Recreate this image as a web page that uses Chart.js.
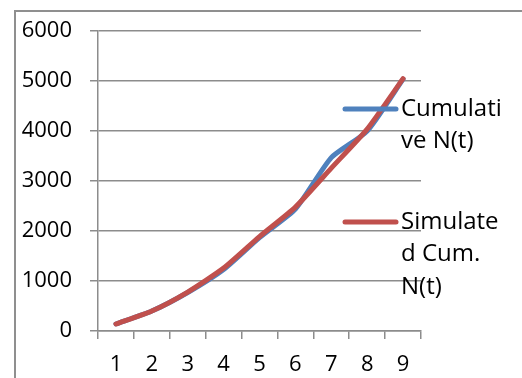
<!DOCTYPE html>
<html lang="en">
<head>
  <meta charset="UTF-8">
  <title>Cumulative N(t)</title>
  <script src="https://cdn.jsdelivr.net/npm/chart.js"></script>
  <style>
    body { margin: 0; background: #fff; font-family: "Open Sans", sans-serif; }
    .wrap { position: relative; width: 522px; height: 378px; overflow: hidden; }
    .frame {
      position: absolute; left: 14px; top: 10px; width: 600px; height: 400px;
      border-left: 2px solid #8f8f8f; border-top: 2px solid #8f8f8f;
    }
    canvas { position: absolute; left: 0; top: 0; }
  </style>
</head>
<body>
<div class="wrap">
  <div class="frame"></div>
  <canvas id="cumChart" width="522" height="378"></canvas>
</div>
<script>
  // time steps (x axis)
  const tLabels = ["1", "2", "3", "4", "5", "6", "7", "8", "9"];
  // observed cumulative N(t)
  const cumulative = [140, 400, 770, 1230, 1870, 2440, 3470, 4000, 5040];
  // simulated cumulative N(t)
  const simulated = [140, 400, 780, 1260, 1890, 2480, 3260, 4040, 5050];

  const legendItems = [
    { lines: ["Cumulati", "ve N(t)"], color: "#4f81bd", y: 109 },
    { lines: ["Simulate", "d Cum.", "N(t)"], color: "#c0504d", y: 222 }
  ];

  // legend drawn by hand, text wraps like the original
  const sideLegend = {
    id: 'sideLegend',
    afterDraw(chart) {
      const ctx = chart.ctx;
      ctx.save();
      ctx.lineCap = 'round';
      ctx.lineWidth = 5;
      ctx.font = '24px "Open Sans"';
      ctx.fillStyle = '#000';
      ctx.textBaseline = 'middle';
      legendItems.forEach(item => {
        ctx.strokeStyle = item.color;
        ctx.beginPath();
        ctx.moveTo(345, item.y);
        ctx.lineTo(396, item.y);
        ctx.stroke();
        item.lines.forEach((txt, i) => {
          ctx.fillText(txt, 401, item.y + i * 32.5);
        });
      });
      ctx.restore();
    }
  };

  const ctx = document.getElementById('cumChart').getContext('2d');
  new Chart(ctx, {
    type: 'line',
    data: {
      labels: tLabels,
      datasets: [
        {
          label: 'Cumulative N(t)',
          data: cumulative,
          borderColor: '#4f81bd',
          borderWidth: 5,
          pointRadius: 0,
          tension: 0.2,
          borderCapStyle: 'round',
          borderJoinStyle: 'round',
          order: 2
        },
        {
          label: 'Simulated Cum. N(t)',
          data: simulated,
          borderColor: '#c0504d',
          borderWidth: 5,
          pointRadius: 0,
          tension: 0.2,
          borderCapStyle: 'round',
          borderJoinStyle: 'round',
          order: 1
        }
      ]
    },
    options: {
      responsive: false,
      animation: false,
      layout: { padding: { top: 27, right: 101, bottom: 0, left: 0 } },
      plugins: {
        legend: { display: false },
        tooltip: { enabled: false }
      },
      scales: {
        x: {
          offset: true,
          grid: {
            offset: true,
            drawOnChartArea: false,
            drawTicks: true,
            tickLength: 8,
            color: '#8c8c8c',
            lineWidth: 1.5
          },
          border: { color: '#8c8c8c', width: 1.5 },
          ticks: { color: '#000', font: { family: 'Open Sans', size: 22 }, padding: 13, maxRotation: 0 },
          afterFit: s => { s.height = 47; }
        },
        y: {
          min: 0,
          max: 6000,
          grid: { color: '#8c8c8c', lineWidth: 1.5, tickLength: 8 },
          border: { color: '#8c8c8c', width: 1.5 },
          ticks: {
            stepSize: 1000,
            color: '#000',
            font: { family: 'Open Sans', size: 22 },
            padding: 18,
            callback: v => String(v)
          },
          afterFit: s => { s.width = 98; }
        }
      }
    },
    plugins: [sideLegend]
  });
</script>
</body>
</html>
